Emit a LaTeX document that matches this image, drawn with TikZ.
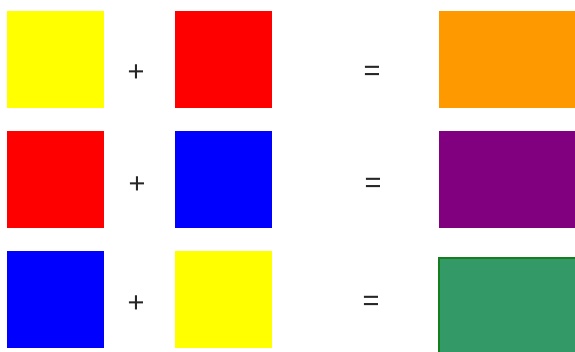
\documentclass[tikz,border=0pt]{standalone}
\usepackage{xcolor}
\usepackage{fontspec}
\usepackage{tikz}
\newfontfamily\opfont{Liberation Sans}
\definecolor{mixyellow}{RGB}{255,255,0}
\definecolor{mixred}{RGB}{255,0,0}
\definecolor{mixblue}{RGB}{0,0,255}
\definecolor{mixorange}{RGB}{255,153,0}
\definecolor{mixpurple}{RGB}{128,0,128}
\definecolor{mixgreen}{RGB}{51,153,102}
\definecolor{mixedge}{RGB}{20,125,30}
\tikzset{
  swatch/.style={
    inner sep=0pt,
    minimum width=97pt,
    minimum height=96.5pt
  },
  result/.style={
    swatch,
    minimum width=136pt
  },
  oper/.style={
    text=black!85,
    font=\opfont\fontsize{29}{32}\selectfont,
    inner sep=0pt
  }
}
\begin{document}
\begin{tikzpicture}[x=1pt,y=-1pt]
\useasboundingbox (0,0) rectangle (575,351);
\begin{scope}
\clip (0,0) rectangle (575,351);
% row 1
\node[swatch,fill=mixyellow] (yellowA) at (55.5,59.3) {};
\node[swatch,fill=mixred] (redA) at (223.5,59.3) {};
\node[result,fill=mixorange] (orange) at (507,59.3) {};
\node[oper] (plusA) at (136,73) {+};
\node[oper] (eqA) at (372,73) {=};
% row 2
\node[swatch,fill=mixred] (redB) at (55.5,179.3) {};
\node[swatch,fill=mixblue] (blueB) at (223.5,179.3) {};
\node[result,fill=mixpurple] (purple) at (507,179.3) {};
\node[oper] (plusB) at (137,185) {+};
\node[oper] (eqB) at (373,185) {=};
% row 3
\node[swatch,fill=mixblue] (blueC) at (55.5,299.3) {};
\node[swatch,fill=mixyellow] (yellowC) at (223.5,299.3) {};
\node[result,fill=mixgreen,draw=mixedge,line width=1.5pt,minimum width=140pt,minimum height=100pt] (green) at (509,308) {};
\node[oper] (plusC) at (136,304) {+};
\node[oper] (eqC) at (371,303) {=};
\end{scope}
\end{tikzpicture}
\end{document}
